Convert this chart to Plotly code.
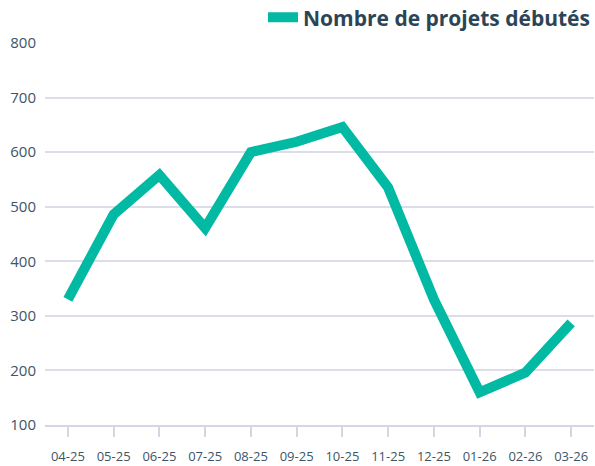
import plotly.graph_objects as go

months = ["04-25", "05-25", "06-25", "07-25", "08-25", "09-25",
          "10-25", "11-25", "12-25", "01-26", "02-26", "03-26"]
projets_debutes = [330, 486, 558, 461, 600, 619, 646, 535, 330, 160, 196, 287]
y_ticks = [100, 200, 300, 400, 500, 600, 700, 800]
series_name = "Nombre de projets débutés"

fig = go.Figure()
fig.add_trace(go.Scatter(
    x=months, y=projets_debutes, mode="lines", name=series_name,
    line=dict(color="#02B9A4", width=10, shape="linear"),
    showlegend=True,
))

fig.update_layout(
    width=595, height=466,
    margin=dict(l=45, r=1, t=43, b=41, autoexpand=False),
    paper_bgcolor="white", plot_bgcolor="white",
    font=dict(family="Open Sans", color="#3e5566"),
    showlegend=True,
    legend=dict(
        orientation="h", xref="container", yref="container",
        x=1.0, xanchor="right", y=0.962, yanchor="middle",
        font=dict(family="Open Sans", size=21, color="#2c4556", weight="bold"),
        itemwidth=30, bgcolor="rgba(0,0,0,0)",
    ),
    xaxis=dict(
        type="category", range=[-0.5, 11.5],
        showgrid=False, showline=True, linecolor="#d4d6e6", linewidth=1.5,
        ticks="outside", ticklen=10, tickcolor="#d4d6e6", tickwidth=1.5,
        tickfont=dict(size=13, color="#3e5566"),
        ticklabelstandoff=9,
    ),
    yaxis=dict(
        range=[100, 800], tickvals=y_ticks,
        showgrid=True, gridcolor="#dcdde9", gridwidth=1.5,
        zeroline=False, showline=False, ticks="",
        tickfont=dict(size=15, color="#3e5566"),
        ticklabelstandoff=8,
    ),
)

fig.write_html("out.html", config={"displayModeBar": False},
               post_script="document.body.style.margin='0';")
